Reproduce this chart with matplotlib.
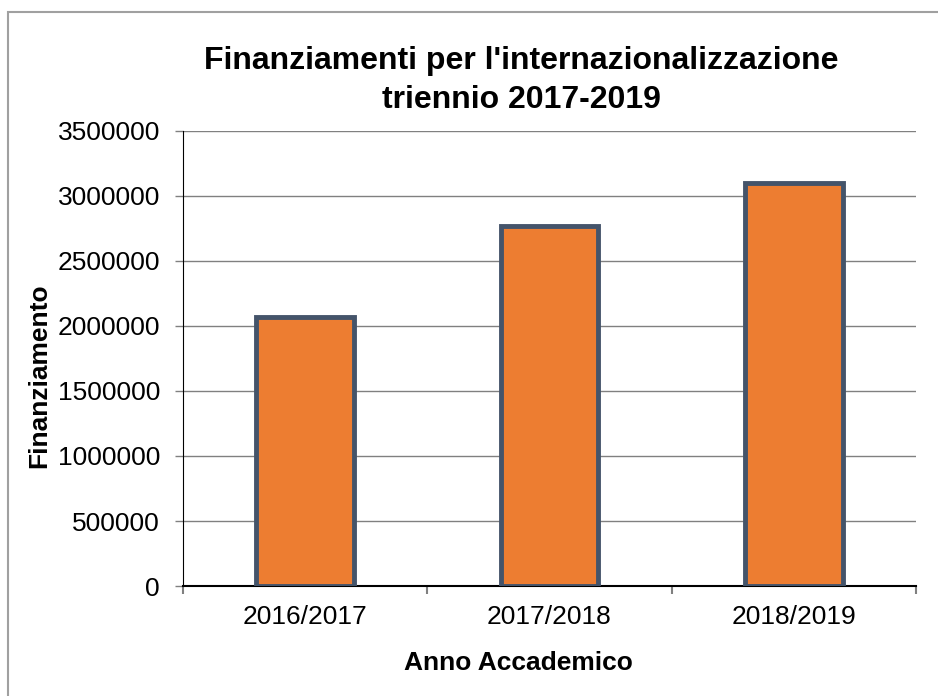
import matplotlib.pyplot as plt
from matplotlib.patches import Rectangle

plt.rcParams['font.family'] = ['Liberation Sans', 'DejaVu Sans']

# Dati
anni = ["2016/2017", "2017/2018", "2018/2019"]
finanziamenti = [2066000, 2767000, 3097000]
yticks = [0, 500000, 1000000, 1500000, 2000000, 2500000, 3000000, 3500000]

fig = plt.figure(figsize=(9.38, 6.96), dpi=100)
ax = fig.add_axes([0.195, 0.158, 0.7815, 0.654])

# barre
x = range(len(anni))
ax.bar(x, finanziamenti, width=0.4, color="#ED7D31", edgecolor="#44546A",
       linewidth=3.5, zorder=3)

ax.set_xlim(-0.5, 2.5)
ax.set_ylim(0, 3500000)
ax.set_yticks(yticks)
ax.set_yticklabels([str(v) for v in yticks], fontsize=19)
ax.set_xticks(list(x))
ax.set_xticklabels(anni, fontsize=19)
ax.tick_params(axis="x", length=0, pad=14)
ax.tick_params(axis="y", length=5.5, width=1, color="#808080", pad=11)

# tick ai confini delle categorie (stile Excel)
ax.set_xticks([-0.5, 0.5, 1.5, 2.5], minor=True)
ax.tick_params(axis="x", which="minor", length=5.5, width=1.5, color="#808080")

ax.grid(axis="y", color="#808080", linewidth=1, zorder=0)
for s in ["top", "right"]:
    ax.spines[s].set_visible(False)
ax.spines["left"].set_color("black")
ax.spines["bottom"].set_color("black")
ax.spines["bottom"].set_linewidth(1.5)

ax.set_xlabel("Anno Accademico", fontsize=19, fontweight="bold")
ax.set_ylabel("Finanziamento", fontsize=19, fontweight="bold")
ax.xaxis.set_label_coords(0.458, -0.143)
ax.yaxis.set_label_coords(-0.179, 0.4615)

fig.text(0.556, 0.884, "Finanziamenti per l'internazionalizzazione\ntriennio 2017-2019",
         ha="center", va="center", fontsize=23, fontweight="bold", linespacing=1.38)

# cornice del grafico
fig.patches.append(Rectangle((7.5 / 938, -0.05), 1.2, 1 - 12 / 696 + 0.05,
                             transform=fig.transFigure, fill=False,
                             edgecolor="#A0A0A0", linewidth=1.5))

fig.savefig("out.png", dpi=100)
